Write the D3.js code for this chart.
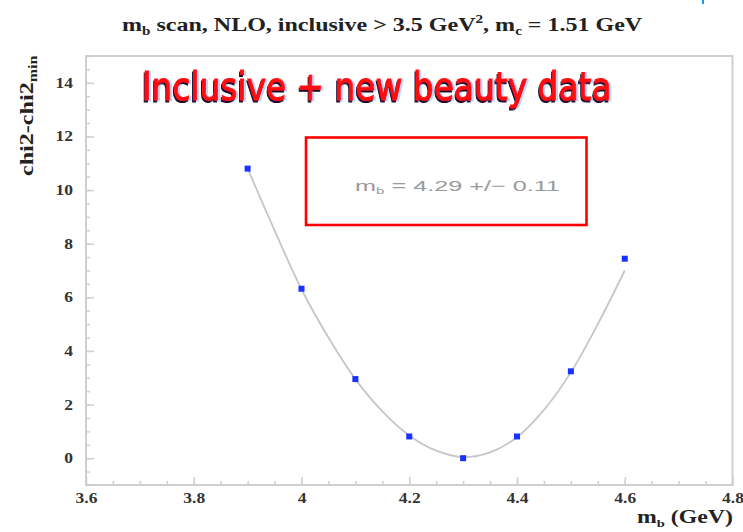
<!DOCTYPE html>
<html>
<head>
<meta charset="utf-8">
<script src="https://cdn.jsdelivr.net/npm/d3@7"></script>
<style>
  html, body { margin: 0; padding: 0; background: #fff; }
  svg { display: block; }
</style>
</head>
<body>
<svg id="chart" width="743" height="532"></svg>
<script>
// b-quark mass scan: chi2 difference at each trial mass
const massPoints = [3.9, 4.0, 4.1, 4.2, 4.3, 4.4, 4.5, 4.6];
const chi2Diff   = [10.8, 6.32, 2.95, 0.81, 0.0, 0.81, 3.24, 7.44];

// fitted chi2 curve, sampled along the scan range
const fitMass = [3.90, 3.95, 4.00, 4.05, 4.10, 4.15, 4.20, 4.25, 4.30, 4.35, 4.40, 4.45, 4.50, 4.55, 4.60];
const fitChi2 = [10.8, 8.5, 6.3, 4.5, 2.95, 1.75, 0.85, 0.28, 0.04, 0.22, 0.78, 1.8, 3.2, 5.0, 7.0];

// axis tick labels
const xTickValues = [3.6, 3.8, 4.0, 4.2, 4.4, 4.6, 4.8];
const xTickLabels = ["3.6", "3.8", "4", "4.2", "4.4", "4.6", "4.8"];
const yTickValues = [0, 2, 4, 6, 8, 10, 12, 14];
const yTickLabels = ["0", "2", "4", "6", "8", "10", "12", "14"];

// fit result
const fitCentral = "4.29";
const fitError = "0.11";

const svg = d3.select("#chart");
const frame = { left: 86, right: 732.5, top: 56, bottom: 485 };

const x = d3.scaleLinear().domain([3.6, 4.8]).range([frame.left, frame.right]);
const y = d3.scaleLinear().domain([-1, 15]).range([frame.bottom, frame.top]);

const serif = "'Liberation Serif', 'Times New Roman', serif";
const sans = "'Liberation Sans', Arial, sans-serif";

// stretch a text element so it spans the given width (and optional vertical factor)
function stretchTo(textSel, width, sy = 1) {
  const w = textSel.node().getBBox().width;
  textSel.attr("transform", `scale(${width / w},${sy})`);
}

// shadow with a coloured fringe for the headline
const defs = svg.append("defs");
const fx = defs.append("filter").attr("id", "fringe")
  .attr("x", "-5%").attr("y", "-20%").attr("width", "110%").attr("height", "140%");
fx.append("feOffset").attr("in", "SourceAlpha").attr("dx", -1.3).attr("dy", 1.6).attr("result", "o1");
fx.append("feFlood").attr("flood-color", "#1a1030").attr("result", "c1");
fx.append("feComposite").attr("in", "c1").attr("in2", "o1").attr("operator", "in").attr("result", "s1");
fx.append("feOffset").attr("in", "SourceAlpha").attr("dx", 1.6).attr("dy", 0.4).attr("result", "o2");
fx.append("feFlood").attr("flood-color", "#8fc8ff").attr("flood-opacity", 0.7).attr("result", "c2");
fx.append("feComposite").attr("in", "c2").attr("in2", "o2").attr("operator", "in").attr("result", "s2");
const merge = fx.append("feMerge");
merge.append("feMergeNode").attr("in", "s2");
merge.append("feMergeNode").attr("in", "s1");
merge.append("feMergeNode").attr("in", "SourceGraphic");

// frame
svg.append("rect")
  .attr("x", frame.left).attr("y", frame.top)
  .attr("width", frame.right - frame.left).attr("height", frame.bottom - frame.top)
  .attr("fill", "none").attr("stroke", "#cfcfcf").attr("stroke-width", 2);

// minor ticks (drawn inward)
svg.append("g")
  .attr("transform", `translate(0,${frame.bottom})`)
  .call(d3.axisBottom(x).ticks(24).tickSize(-4).tickFormat(""))
  .call(g => g.select(".domain").remove())
  .call(g => g.selectAll("line").attr("stroke", "#cfcfcf").attr("stroke-width", 1.5));
svg.append("g")
  .attr("transform", `translate(${frame.left},0)`)
  .call(d3.axisLeft(y).ticks(32).tickSize(-4).tickFormat(""))
  .call(g => g.select(".domain").remove())
  .call(g => g.selectAll("line").attr("stroke", "#cfcfcf").attr("stroke-width", 1.5));

// major ticks and labels
const xAxis = svg.append("g")
  .attr("transform", `translate(0,${frame.bottom})`)
  .call(d3.axisBottom(x).tickValues(xTickValues).tickSize(-8).tickPadding(8)
    .tickFormat((d, i) => xTickLabels[i]))
  .call(g => g.select(".domain").remove());
xAxis.selectAll("line").attr("stroke", "#cfcfcf").attr("stroke-width", 1.5);
xAxis.selectAll("text")
  .attr("font-family", serif).attr("font-weight", "bold").attr("font-size", 14)
  .attr("fill", "#333")
  .attr("transform", "scale(1.25,1)");

const yAxis = svg.append("g")
  .attr("transform", `translate(${frame.left},0)`)
  .call(d3.axisLeft(y).tickValues(yTickValues).tickSize(-8).tickPadding(13)
    .tickFormat((d, i) => yTickLabels[i]))
  .call(g => g.select(".domain").remove());
yAxis.selectAll("line").attr("stroke", "#cfcfcf").attr("stroke-width", 1.5);
yAxis.selectAll("text")
  .attr("font-family", serif).attr("font-weight", "bold").attr("font-size", 14)
  .attr("fill", "#333")
  .attr("x", 0)
  .attr("transform", "translate(-13,0) scale(1.25,1)");

// title
const titleG = svg.append("g").attr("transform", "translate(122,31)");
const title = titleG.append("text")
  .attr("font-family", serif).attr("font-weight", "bold").attr("font-size", 19)
  .attr("fill", "#222");
title.append("tspan").text("m");
title.append("tspan").attr("font-size", 12).attr("dy", 4).text("b");
title.append("tspan").attr("dy", -4).text(" scan, NLO, inclusive > 3.5 GeV");
title.append("tspan").attr("font-size", 12).attr("dy", -8).text("2");
title.append("tspan").attr("dy", 8).text(", m");
title.append("tspan").attr("font-size", 12).attr("dy", 4).text("c");
title.append("tspan").attr("dy", -4).text(" = 1.51 GeV");
stretchTo(title, 521);

// y-axis title
const yTitleG = svg.append("g").attr("transform", "translate(33,176) rotate(-90)");
const yTitle = yTitleG.append("text")
  .attr("font-family", serif).attr("font-weight", "bold").attr("font-size", 18)
  .attr("fill", "#222");
yTitle.append("tspan").text("chi2-chi2");
yTitle.append("tspan").attr("font-size", 12).attr("dy", 4).text("min");
stretchTo(yTitle, 121);

// x-axis title
const xTitleG = svg.append("g").attr("transform", "translate(637,523)");
const xTitle = xTitleG.append("text")
  .attr("font-family", serif).attr("font-weight", "bold").attr("font-size", 18)
  .attr("fill", "#222");
xTitle.append("tspan").text("m");
xTitle.append("tspan").attr("font-size", 11).attr("dy", 4).text("b");
xTitle.append("tspan").attr("dy", -4).text(" (GeV)");
stretchTo(xTitle, 96);

// fit curve
const line = d3.line()
  .x((d, i) => x(fitMass[i]))
  .y(d => y(d))
  .curve(d3.curveCatmullRom);
svg.append("path")
  .datum(fitChi2)
  .attr("d", line)
  .attr("fill", "none")
  .attr("stroke", "#c6c6c6")
  .attr("stroke-width", 1.8);

// scan points
const m = 6;
svg.append("g").selectAll("rect")
  .data(chi2Diff)
  .join("rect")
  .attr("x", (d, i) => x(massPoints[i]) - m / 2)
  .attr("y", d => y(d) - m / 2)
  .attr("width", m).attr("height", m)
  .attr("fill", "#1a32ff");

// headline
const headG = svg.append("g").attr("transform", "translate(142,100)");
const headText = headG.append("text")
  .attr("font-family", "'DejaVu Sans', sans-serif").attr("font-size", 31)
  .attr("fill", "#ff1010").attr("stroke", "#ff1010").attr("stroke-width", 0.9)
  .attr("filter", "url(#fringe)")
  .text("Inclusive + new beauty data");
stretchTo(headText, 470, 1.25);

// fit result box
svg.append("rect")
  .attr("x", 306).attr("y", 137.5).attr("width", 280.5).attr("height", 87.5)
  .attr("fill", "none").attr("stroke", "#ff0000").attr("stroke-width", 2.6);
const resG = svg.append("g").attr("transform", "translate(355,191)");
const res = resG.append("text")
  .attr("font-family", sans).attr("font-size", 15).attr("fill", "#9a9a9a");
res.append("tspan").text("m");
res.append("tspan").attr("font-size", 9).attr("dy", 3).text("b");
res.append("tspan").attr("dy", -3).text(` = ${fitCentral}  +/\u2212 ${fitError}`);
stretchTo(res, 205);

// small blue mark in the top corner
svg.append("rect")
  .attr("x", 702).attr("y", 0).attr("width", 2).attr("height", 4)
  .attr("fill", "#2196f3");
</script>
</body>
</html>
